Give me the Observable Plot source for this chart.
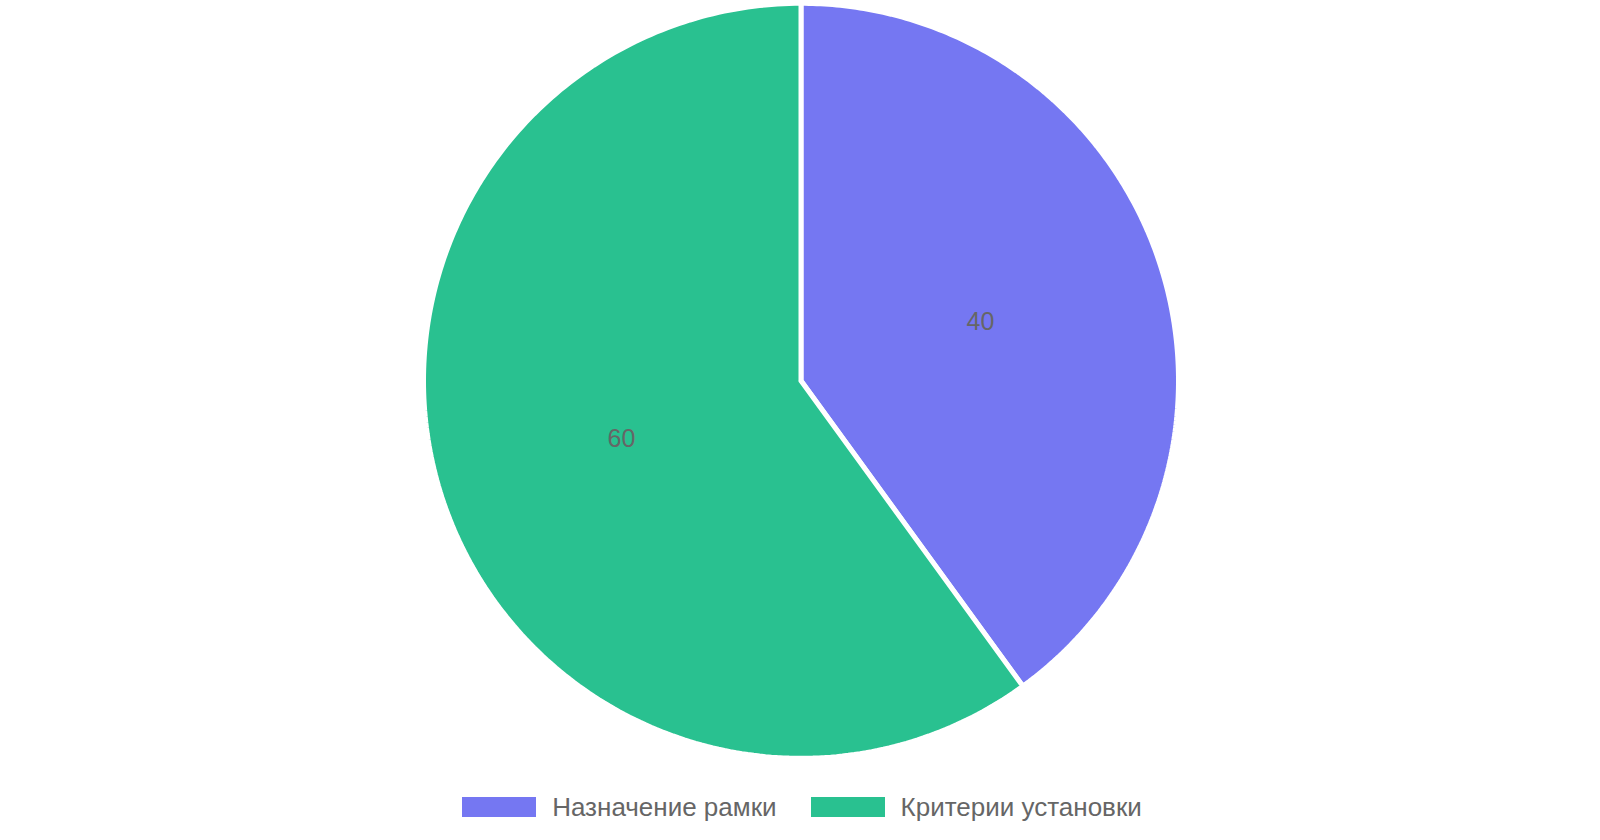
<!DOCTYPE html>
<html>
<head>
<meta charset="utf-8">
<script src="https://cdn.jsdelivr.net/npm/d3@7"></script>
<script src="https://cdn.jsdelivr.net/npm/@observablehq/plot@0.6"></script>
<style>
  html, body { margin: 0; padding: 0; background: #fff; }
  body { width: 1600px; font-family: "Liberation Sans", Arial, sans-serif; }
  #chart svg { display: block; }
  #legend { display: flex; justify-content: center; align-items: center; margin-top: 12px; height: 30px; padding-left: 4px; }
  .item { display: flex; align-items: center; margin: 0 17px; }
  .sw { width: 74px; height: 20px; margin-right: 16px; }
  .lab { font-size: 26px; color: #666; line-height: 30px; }
</style>
</head>
<body>
<div id="chart"></div>
<div id="legend"></div>
<script>
const categories = ["Назначение рамки", "Критерии установки"];
const values = [40, 60];
const colors = ["#7577F2", "#29C190"];

const W = 1600, H = 780;
const cx = 800.5, cy = 380.3, R = 377.5;

const arcs = d3.pie().sort(null).value(d => d)(values);

// polygon outline of each slice, in unit-circle coordinates
const pts = [];
arcs.forEach((a, i) => {
  const name = categories[i];
  pts.push({name, x: 0, y: 0});
  const n = 240;
  for (let k = 0; k <= n; k++) {
    const t = a.startAngle + (a.endAngle - a.startAngle) * k / n;
    pts.push({name, x: Math.sin(t), y: Math.cos(t)});
  }
  pts.push({name, x: 0, y: 0});
});

const labels = arcs.map((a, i) => {
  const m = (a.startAngle + a.endAngle) / 2;
  return {name: categories[i], value: values[i], x: 0.5 * Math.sin(m), y: 0.5 * Math.cos(m)};
});

const chart = Plot.plot({
  width: W,
  height: H,
  margin: 0,
  x: {domain: [-1, 1], range: [cx - R, cx + R], axis: null},
  y: {domain: [-1, 1], range: [cy + R, cy - R], axis: null},
  color: {domain: categories, range: colors},
  style: {fontFamily: "'Liberation Sans', Arial, sans-serif", background: "#fff"},
  marks: [
    Plot.line(pts, {x: "x", y: "y", z: "name", fill: "name", stroke: "#fff", strokeWidth: 5, strokeLinejoin: "miter"}),
    Plot.text(labels, {x: "x", y: "y", text: d => String(d.value), fill: "#666", fontSize: 25})
  ]
});
document.getElementById("chart").appendChild(chart);

const color = chart.scale("color");
const legend = document.getElementById("legend");
categories.forEach(c => {
  const item = document.createElement("div");
  item.className = "item";
  const sw = document.createElement("div");
  sw.className = "sw";
  sw.style.background = color.apply(c);
  const lab = document.createElement("span");
  lab.className = "lab";
  lab.textContent = c;
  item.appendChild(sw);
  item.appendChild(lab);
  legend.appendChild(item);
});
</script>
</body>
</html>
